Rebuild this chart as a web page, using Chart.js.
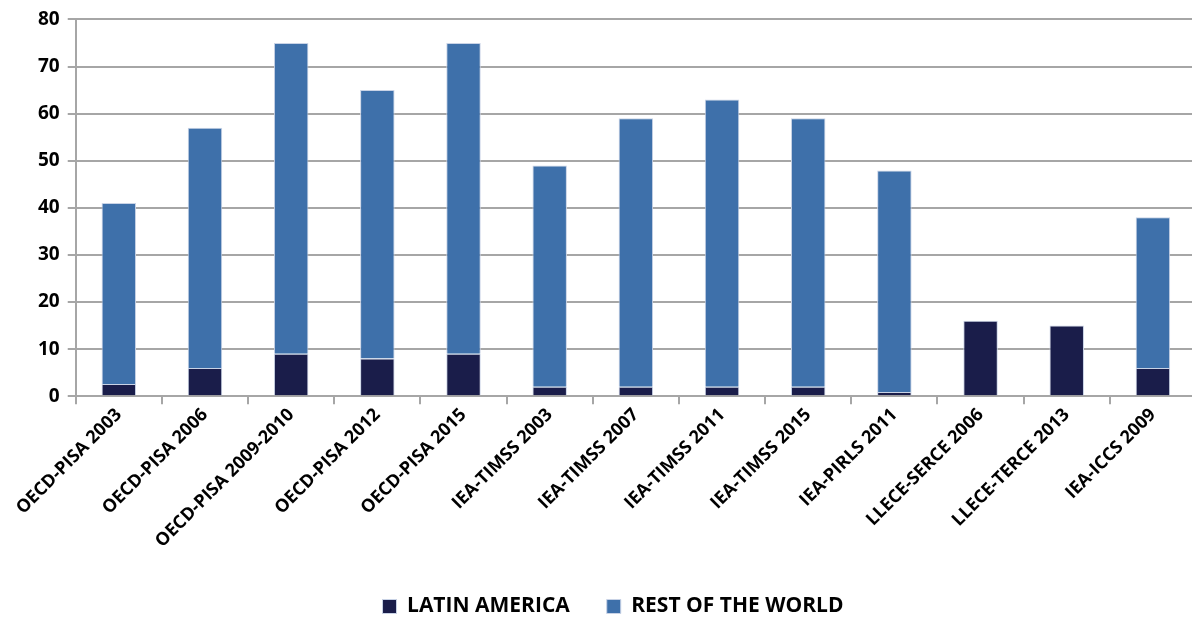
<!DOCTYPE html>
<html lang="en">
<head>
  <meta charset="UTF-8" />
  <title>Latin America vs Rest of the World – Assessments</title>
  <script src="https://cdn.jsdelivr.net/npm/chart.js"></script>
  <style>
    body {
      margin: 0;
      background: #ffffff;
      overflow: hidden;
    }
    .chart-box {
      width: 1196px;
      height: 617px;
    }
  </style>
</head>
<body>
  <div class="chart-box">
    <canvas id="barChart" width="1196" height="617"></canvas>
  </div>

  <script>
    const categories = [
      "OECD-PISA 2003", "OECD-PISA 2006", "OECD-PISA 2009-2010", "OECD-PISA 2012",
      "OECD-PISA 2015", "IEA-TIMSS 2003", "IEA-TIMSS 2007", "IEA-TIMSS 2011",
      "IEA-TIMSS 2015", "IEA-PIRLS 2011", "LLECE-SERCE 2006", "LLECE-TERCE 2013",
      "IEA-ICCS 2009"
    ];
    const latinAmerica = [2.6, 6, 9, 8, 9, 2, 2, 2, 2, 0.9, 16, 15, 6];
    const restOfWorld = [38.4, 51, 66, 57, 66, 47, 57, 61, 57, 47, 0, 0, 32];
    const yTicks = [0, 10, 20, 30, 40, 50, 60, 70, 80];

    const font = "'Open Sans', 'DejaVu Sans', sans-serif";
    const gridGray = '#a6a6a6';

    new Chart(document.getElementById("barChart"), {
      type: 'bar',
      data: {
        labels: categories,
        datasets: [
          {
            label: 'LATIN AMERICA',
            data: latinAmerica,
            backgroundColor: '#1a1d4a',
            borderColor: '#c9d3e6',
            borderWidth: 1,
            borderSkipped: 'bottom',
            barPercentage: 0.4,
            categoryPercentage: 1
          },
          {
            label: 'REST OF THE WORLD',
            data: restOfWorld,
            backgroundColor: '#3e70aa',
            borderColor: '#c9d3e6',
            borderWidth: 1,
            borderSkipped: 'bottom',
            barPercentage: 0.4,
            categoryPercentage: 1
          }
        ]
      },
      options: {
        responsive: false,
        animation: false,
        layout: { padding: { top: 10, left: 30, right: 0, bottom: -10 } },
        plugins: {
          legend: {
            position: 'bottom',
            labels: {
              color: '#000',
              font: { family: font, size: 21, weight: 'bold' },
              boxWidth: 14,
              boxHeight: 14,
              padding: 37
            }
          },
          tooltip: { enabled: false }
        },
        scales: {
          x: {
            stacked: true,
            grid: {
              display: true,
              drawOnChartArea: false,
              color: gridGray,
              lineWidth: 2,
              tickLength: 8
            },
            border: { color: gridGray, width: 2 },
            ticks: {
              color: '#000',
              font: { family: font, size: 18, weight: 'bold' },
              maxRotation: 45,
              minRotation: 45,
              autoSkip: false,
              padding: 0
            },
            afterFit: axis => { axis.height += 7; }
          },
          y: {
            stacked: true,
            min: 0,
            max: 80,
            afterBuildTicks: axis => {
              axis.ticks = yTicks.map(v => ({ value: v }));
            },
            grid: {
              color: gridGray,
              lineWidth: 2,
              tickLength: 8
            },
            border: { color: gridGray, width: 2 },
            ticks: {
              color: '#000',
              font: { family: font, size: 19, weight: 'bold' },
              padding: 8
            }
          }
        }
      }
    });
  </script>
</body>
</html>
